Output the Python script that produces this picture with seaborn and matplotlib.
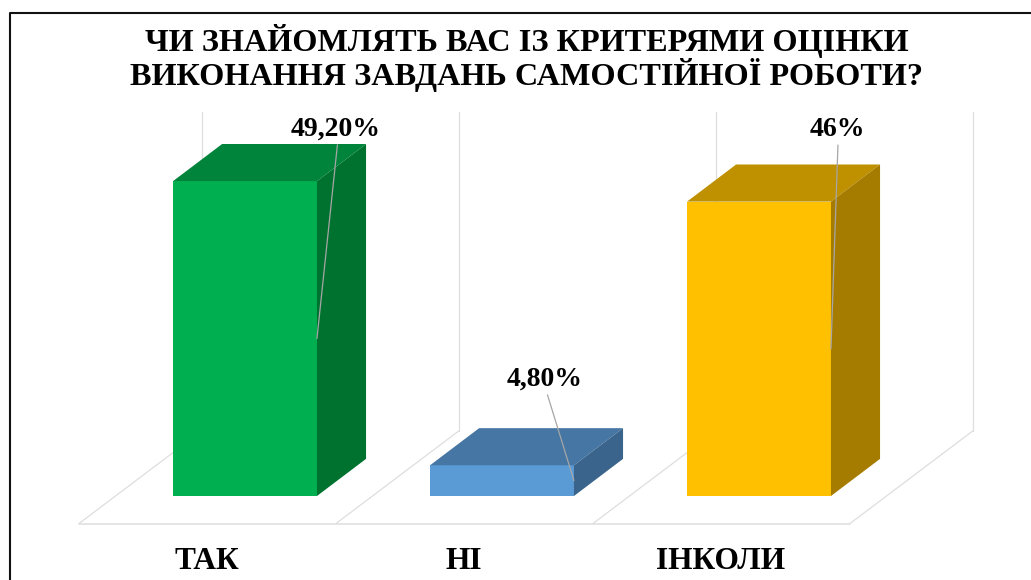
import pandas as pd
import seaborn as sns
import matplotlib.pyplot as plt
from matplotlib.lines import Line2D
from matplotlib.patches import Polygon
from matplotlib.transforms import ScaledTranslation

# Chart data
categories = ['ТАК', 'НІ', 'ІНКОЛИ']
values = [49.2, 4.8, 46]
value_labels = ['49,20%', '4,80%', '46%']
title = 'ЧИ ЗНАЙОМЛЯТЬ ВАС ІЗ КРИТЕРЯМИ ОЦІНКИ\nВИКОНАННЯ ЗАВДАНЬ САМОСТІЙНОЇ РОБОТИ?'

# Front, top and side colours of each bar
front_colors = ['#00B050', '#5B9BD5', '#FFC000']
top_colors = ['#00843C', '#4676A3', '#BF9000']
side_colors = ['#00722F', '#3A648B', '#A67C00']

# Label offsets from the bar's leader anchor, in pixels
label_offsets = [(19, 203), (-29, 95), (6, 213)]

# 3D look, in data units
depth_x = 0.191
depth_y = 5.8

sns.set_theme(style='white')
plt.rcParams['font.family'] = ['Liberation Serif', 'DejaVu Serif']
plt.rcParams['font.weight'] = 'bold'

df = pd.DataFrame({'category': categories, 'value': values})

fig = plt.figure(figsize=(10.31, 5.8), dpi=100, facecolor='white')
# y = 0 sits at pixel row 496, one category is 257 px wide
ax = fig.add_axes([0, 84 / 580, 1, 384 / 580])
ax.patch.set_alpha(0)

sns.barplot(data=df, x='category', y='value', hue='category', order=categories,
            hue_order=categories, palette=front_colors, width=0.56, legend=False,
            saturation=1, linewidth=0, ax=ax, zorder=3)

ax.set_xlim(-245 / 257, (1031 - 245) / 257)
ax.set_ylim(0, 60)
sns.despine(ax=ax, left=True, bottom=True)
ax.set_xlabel('')
ax.set_ylabel('')
ax.set_yticks([])

# Floor and back walls
grid_color = '#DEDEDE'
floor_y = -4.3
wall_y = 10.2
back_shift = -0.167
front_shift = -0.646
for i in range(len(categories) + 1):
    ax.plot([i + front_shift, i + back_shift], [floor_y, wall_y], color=grid_color,
            lw=0.9, clip_on=False, zorder=1)
    ax.plot([i + back_shift, i + back_shift], [wall_y, 60], color=grid_color,
            lw=0.9, clip_on=False, zorder=1)
ax.plot([front_shift, len(categories) + front_shift], [floor_y, floor_y],
        color=grid_color, lw=1.1, clip_on=False, zorder=1)

# Side and top faces, worked out from the seaborn bars
for i, bar in enumerate(ax.patches):
    x0 = bar.get_x()
    x1 = x0 + bar.get_width()
    h = bar.get_height()
    ax.add_patch(Polygon([(x0, h), (x1, h), (x1 + depth_x, h + depth_y), (x0 + depth_x, h + depth_y)],
                         facecolor=top_colors[i], edgecolor='none', clip_on=False, zorder=3))
    ax.add_patch(Polygon([(x1, 0), (x1 + depth_x, depth_y), (x1 + depth_x, h + depth_y), (x1, h)],
                         facecolor=side_colors[i], edgecolor='none', clip_on=False, zorder=3))
    ax.annotate(value_labels[i], xy=(x1, values[i] / 2), xytext=label_offsets[i],
                textcoords='offset pixels', ha='center', va='baseline', fontsize=20,
                color='#000000', annotation_clip=False, zorder=5,
                arrowprops=dict(arrowstyle='-', color='#A6A6A6', lw=0.9, shrinkA=0, shrinkB=0,
                                relpos=(0.52, 0)))

# Category labels sit left of the bars, under the floor
ax.set_xticks(range(len(categories)))
ax.set_xticklabels(categories, fontsize=22.6, color='#000000')
ax.tick_params(axis='x', length=0, pad=37)
for label in ax.get_xticklabels():
    label.set_transform(label.get_transform() + ScaledTranslation(-38 / 100, 0, fig.dpi_scale_trans))

# A multiline string is anchored on its last baseline
fig.text(527 / 1031, 1 - 85.5 / 580, title, ha='center', va='baseline', fontsize=23.2,
         color='#000000', linespacing=1.03, fontweight='bold')

# Page frame: only the top and left edges are in view
fig.add_artist(Line2D([10 / 1031, 10 / 1031, 1], [0, 1 - 12.5 / 580, 1 - 12.5 / 580],
                      color='#111111', lw=1.5))

plt.savefig('out.png', dpi=100)
